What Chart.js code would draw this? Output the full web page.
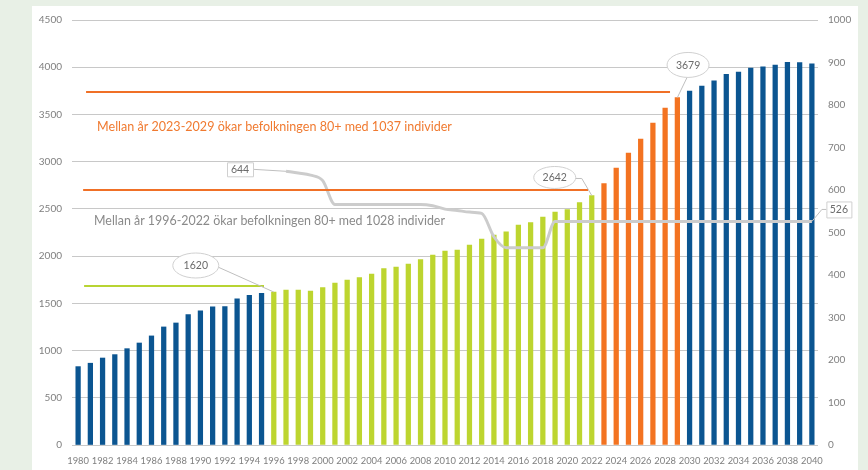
<!DOCTYPE html>
<html>
<head>
<meta charset="utf-8">
<script src="https://cdn.jsdelivr.net/npm/chart.js@4"></script>
<style>
  html, body { margin: 0; padding: 0; background: #e8f0e6; width: 868px; height: 470px; overflow: hidden; }
  #panel { position: absolute; left: 32px; top: 6px; width: 826px; height: 464px; background: #ffffff; }
  #c { position: absolute; left: 0; top: 0; }
</style>
</head>
<body>
<div id="panel"></div>
<canvas id="c" width="868" height="470"></canvas>
<script>
// ---- data ----
const years = [1980,1981,1982,1983,1984,1985,1986,1987,1988,1989,1990,1991,1992,1993,1994,1995,1996,1997,1998,1999,
  2000,2001,2002,2003,2004,2005,2006,2007,2008,2009,2010,2011,2012,2013,2014,2015,2016,2017,2018,2019,
  2020,2021,2022,2023,2024,2025,2026,2027,2028,2029,2030,2031,2032,2033,2034,2035,2036,2037,2038,2039,2040];

const population80plus = [830,866,921,957,1020,1080,1155,1250,1292,1380,1420,1462,1466,1547,1586,1607,1620,1641,1641,1630,
  1666,1715,1747,1772,1811,1867,1885,1916,1962,2012,2054,2065,2118,2181,2223,2258,2329,2354,2414,2467,
  2492,2566,2642,2767,2933,3092,3240,3409,3568,3679,3748,3801,3857,3925,3949,3992,4005,4023,4052,4048,4037];

const rightSeries = [null,null,null,null,null,null,null,null,null,null,null,null,null,null,null,null,null,644,640,635,
  622,566,566,566,566,566,566,566,566,563,555,552,548,545,490,464,464,464,464,526,
  526,526,526,526,526,526,526,526,526,526,526,526,526,526,526,526,526,526,526,526,526];

const leftTicks = [0,500,1000,1500,2000,2500,3000,3500,4000,4500];
const rightTicks = [0,100,200,300,400,500,600,700,800,900,1000];

const periodGreen = [1996, 2022];
const periodOrange = [2023, 2029];

const refLevels = { green: 1687, orangeLow: 2700, orangeHigh: 3740 };

const textOrange = 'Mellan år 2023-2029 ökar befolkningen 80+ med 1037 individer';
const textGray = 'Mellan år 1996-2022 ökar befolkningen 80+ med 1028 individer';

// ---- styles ----
const BLUE = '#0b5591', GREEN = '#bdd52f', ORANGE = '#f37321';
const barColors = years.map(y => (y >= periodGreen[0] && y <= periodGreen[1]) ? GREEN :
                                 (y >= periodOrange[0] && y <= periodOrange[1]) ? ORANGE : BLUE);
const TICK = '#7f7f7f';
Chart.defaults.font.family = 'Lato';

const overlay = {
  id: 'overlay',
  afterDatasetsDraw(chart) {
    const ctx = chart.ctx;
    const x = chart.scales.x, y = chart.scales.y;
    // reference lines
    const refs = [
      { v: refLevels.green, a: 0.49, b: 15.2, c: '#b8d433' },
      { v: refLevels.orangeLow, a: 0.41, b: 41.7, c: '#f07026' },
      { v: refLevels.orangeHigh, a: 0.65, b: 48.4, c: '#f07026' }
    ];
    ctx.save();
    refs.forEach(r => {
      const py = Math.round(y.getPixelForValue(r.v));
      ctx.strokeStyle = r.c; ctx.lineWidth = 2;
      ctx.beginPath();
      ctx.moveTo(x.getPixelForValue(r.a), py);
      ctx.lineTo(x.getPixelForValue(r.b), py);
      ctx.stroke();
    });
    // annotation texts
    function fitText(t, left, cy, width, color) {
      ctx.font = '12px Lato';
      const w = ctx.measureText(t).width;
      const fs = 12 * width / w;
      ctx.font = fs.toFixed(2) + 'px Lato';
      ctx.fillStyle = color; ctx.textAlign = 'left'; ctx.textBaseline = 'middle';
      ctx.fillText(t, left, cy);
    }
    fitText(textOrange, x.getPixelForValue(1.55), y.getPixelForValue(3370), 355, '#f07a30');
    fitText(textGray, x.getPixelForValue(1.3), y.getPixelForValue(2374), 351, '#8a8a8a');

    // callouts
    const barMeta = chart.getDatasetMeta(0), lineMeta = chart.getDatasetMeta(1);
    const callouts = [
      { meta: lineMeta, i: 17, shape: 'rect', dx: -46, dy: -2, w: 26, h: 14, text: '644', path: [] },
      { meta: lineMeta, i: 60, shape: 'rect', dx: 27, dy: -12, w: 25, h: 16, text: '526', path: [[10, -12]] },
      { meta: barMeta, i: 16, shape: 'ell', dx: -78, dy: -26.5, w: 46, h: 25, text: '1620', path: [] },
      { meta: barMeta, i: 42, shape: 'ell', dx: -37, dy: -18, w: 42, h: 22, text: '2642', path: [[-10, -17]] },
      { meta: barMeta, i: 49, shape: 'ell', dx: 10.7, dy: -32.6, w: 42, h: 25, text: '3679', path: [] }
    ];
    callouts.forEach(c => {
      const el = c.meta.data[c.i];
      const px = el.x, pyy = el.y;
      const cx = px + c.dx, cy = pyy + c.dy;
      ctx.strokeStyle = '#bfbfbf'; ctx.lineWidth = 1;
      ctx.beginPath();
      let sx, sy;
      if (c.shape === 'rect') {
        sx = c.dx < 0 ? cx + c.w / 2 : cx - c.w / 2; sy = cy;
      } else {
        if (c.dx < -20) { sx = cx + c.w / 2 - 2; sy = cy + 1; }
        else { sx = cx - 1; sy = cy + c.h / 2; }
      }
      ctx.moveTo(px, pyy);
      c.path.forEach(p => ctx.lineTo(px + p[0], pyy + p[1]));
      ctx.lineTo(sx, sy);
      ctx.stroke();
      ctx.fillStyle = '#ffffff';
      ctx.strokeStyle = '#d0d0d0';
      ctx.beginPath();
      if (c.shape === 'rect') ctx.rect(cx - c.w / 2 + 0.5, cy - c.h / 2 + 0.5, c.w, c.h);
      else ctx.ellipse(cx, cy, c.w / 2, c.h / 2, 0, 0, Math.PI * 2);
      ctx.fill(); ctx.stroke();
      ctx.fillStyle = '#6b6b6b';
      ctx.font = '10.5px Lato';
      ctx.textAlign = 'center'; ctx.textBaseline = 'middle';
      ctx.fillText(c.text, cx, cy + 0.5);
    });
    ctx.restore();
  }
};

new Chart(document.getElementById('c'), {
  type: 'bar',
  data: {
    labels: years,
    datasets: [
      { type: 'bar', data: population80plus, backgroundColor: barColors, barThickness: 4.6, yAxisID: 'y', order: 2 },
      { type: 'line', data: rightSeries, borderColor: '#cccccc', borderWidth: 3, pointRadius: 0,
        cubicInterpolationMode: 'monotone', yAxisID: 'y1', order: 1, spanGaps: false }
    ]
  },
  options: {
    responsive: false,
    animation: false,
    devicePixelRatio: 1,
    layout: { padding: { top: 20, left: 0, right: 0, bottom: 0 } },
    plugins: { legend: { display: false }, tooltip: { enabled: false } },
    scales: {
      x: {
        grid: { display: false, drawTicks: false },
        border: { display: false },
        ticks: {
          autoSkip: false, maxRotation: 0, minRotation: 0, padding: 10,
          color: TICK, font: { size: 9.4 },
          callback: (v, i) => (i % 2 === 0 ? String(years[i]) : '')
        },
        afterFit: s => { s.height = 25; }
      },
      y: {
        position: 'left', min: 0, max: 4500,
        afterBuildTicks: s => { s.ticks = leftTicks.map(v => ({ value: v })); },
        grid: { color: '#c8c8c8', drawTicks: false },
        border: { display: false },
        ticks: { color: TICK, font: { size: 10 }, padding: 10, callback: v => String(v) },
        afterFit: s => { s.width = 72; }
      },
      y1: {
        position: 'right', min: 0, max: 1000,
        afterBuildTicks: s => { s.ticks = rightTicks.map(v => ({ value: v })); },
        grid: { display: false, drawTicks: false },
        border: { display: false },
        ticks: { color: TICK, font: { size: 10 }, padding: 10, callback: v => String(v) },
        afterFit: s => { s.width = 50; }
      }
    }
  },
  plugins: [overlay]
});
</script>
</body>
</html>
